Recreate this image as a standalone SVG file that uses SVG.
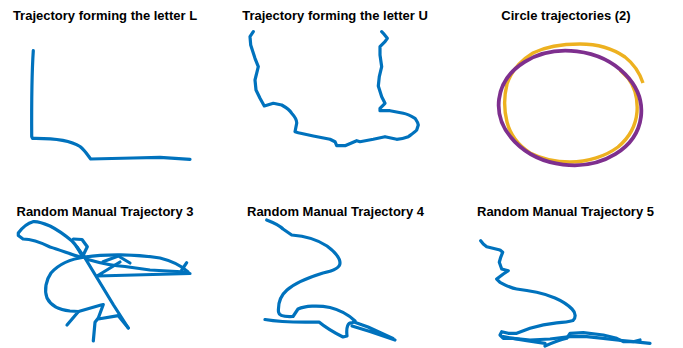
<svg xmlns="http://www.w3.org/2000/svg" width="683" height="348" viewBox="0 0 683 348">
<style>
.t{font-family:"Liberation Sans",Arial,sans-serif;font-weight:bold;font-size:13px;fill:#000;text-anchor:middle}
.b{fill:none;stroke:#0072BD;stroke-width:3.2;stroke-linecap:round;stroke-linejoin:round}
.o{fill:none;stroke:#EDB120;stroke-width:3.4;stroke-linecap:butt}
.p{fill:none;stroke:#7E2F8E;stroke-width:3.8}
</style>
<rect width="683" height="348" fill="#fff"/>
<g id="panel-L">
<text class="t" x="105" y="19.5">Trajectory forming the letter L</text>
<path class="b" d="M33.3,50.7 C32,70 31.5,100 31.7,136.5 L32.5,138.3 C55,138 70,140 80,146.5 C85,150.5 88,155.5 90.7,159 L133,158 L160,157.3 L190,159.3"/>
</g>
<g id="panel-U">
<text class="t" x="335" y="19.5">Trajectory forming the letter U</text>
<path class="b" d="M253.3,31.7 L250,36.7 L250.7,45 L255,58.3 L258.3,66.7 L255,80 L256,90 L260,98.3 L264.3,106 L273.3,103.3 L281.7,105 C287,108 290,110 291.7,113.3 C295,117 297,120 296.7,123.3 L295,131.7 L298.3,132.7 L313.3,136 L330,139.3 L335,141.7 L336.7,145.7 L345,145.7 L356.7,140.7 L360,141.7 L373.3,139.3 L385,136.7 L396.7,139.3 C402,139 405,138 408.3,136.7 C412,134 415,132 416.7,130 L418.3,125 C418,122 416,120 415,118.3 C411,116 407,114 403.3,113.3 L390,110.7 L380,110.7 L380,108.3 L385,103.3 L381.7,96.7 L378.3,86 L379.3,76.7 L381.7,66.7 L380,55 L380,46.7 L385,41.7 L387.3,38.3 L383.3,33.3 L381.7,31.7"/>
</g>
<g id="panel-circles">
<text class="t" x="566" y="19.5">Circle trajectories (2)</text>
<path class="o" d="M643,83 C640,74 634,64 625,57 C612,48 596,44 580,44 C562,44 545,47 533,53 C520,61 511,72 507,84 C504,96 504,110 507,122 C510,134 518,145 530,153 C542,159 556,162 570,162 C588,162 606,156 618,147 C630,137 636,124 637,112 C638,98 634,86 628,78 L620,70"/>
<ellipse class="p" cx="570" cy="108" rx="71.5" ry="57" transform="rotate(7 570 108)"/>
</g>
<g id="panel-r3">
<text class="t" x="105" y="215.7">Random Manual Trajectory 3</text>
<path class="b" d="M80,257 C70,254 60,250 50,247 C42,243 32,239 23,239 L18.3,235.5 L18.3,233 C22,228 28,223 33,221.7 C38,221 43,223 50,226 C58,230 66,236 72,241 C76,245 79,250 82,256"/>
<path class="b" d="M85,257 C70,259 58,265 51,273 C46,280 44,290 47,298 C51,306 60,310 70,311 L78.5,311.5 L67,325"/>
<path class="b" d="M78.5,311.5 L101,305 L103.3,304.5 L98.3,318 L95,322.3 L93.3,341 M98.3,319 L118.3,315.7 L128.3,328"/>
<path class="b" d="M77,247 L85,258 L113.5,305 L128.3,328"/>
<path class="b" d="M73.3,239 L82,239.5 L87.3,246.7 L83.3,255"/>
<path class="b" d="M85,257 C105,254 135,254 160,258 C172,261 182,266 188,272"/>
<path class="b" d="M186.7,262.7 L181.7,270"/>
<path class="b" d="M86,259 C100,263 112,266 125,266.5 L150,270 L186,272"/>
<path class="b" d="M120,262 L97,276 L190,273.5"/>
<path class="b" d="M103,261.7 L118.3,256 L130,263"/>
</g>
<g id="panel-r4">
<text class="t" x="335.5" y="215.7">Random Manual Trajectory 4</text>
<path class="b" d="M266.7,220 C272,222 278,224 283,229 L291.7,235 C305,236 318,240 327,246 C335,252 340,258 340,263 C340,268 333,271 323,273 C310,277 295,283 287,290 C280,296 278,305 278.5,312 C279,316 284,317 293,316.5 L298,309 C305,306 318,305 330,307.5 C340,310 350,316 355,321 L352,323 C348,322 346,327 347,336 L343,337 C335,333 325,327 319,322 C305,322 285,323 265,319.5"/>
<path class="b" d="M352,326 L370,331.5 L395,340 M354,322 L368,327 L393,338.5"/>
</g>
<g id="panel-r5">
<text class="t" x="565.5" y="215.7">Random Manual Trajectory 5</text>
<path class="b" d="M480.7,240.7 L483.3,244 L486.7,246.7 L500,250 L502.7,252.3 L500.7,257.3 L499.3,262.3 L501.7,269 L508.3,270.7 L503.3,274 L496.7,279 L500,282.3 C505,285 510,288 516.7,289 C524,290 530,291 536.7,292.3 C545,294 550,296 555,298 C562,301 568,305 572,309 C576,313 576,318 573,320.5 C568,322 562,322.5 556.7,322.8 C548,323.5 540,325 530,328.3 L516.7,333.3 L508.3,333.3 L501.7,331.7 L500,335 L503.3,338.3 L513.3,338.3 L530,340 L550,339 L570,336.7 L586.7,336.7 L603.3,338.3 L616.7,340 L633.3,341.7 L650,343.3"/>
<path class="b" d="M503.3,336.7 L526.7,340.7 L545,343.3 M545,346 C552,343 560,340 566.7,338.3 L570,333.3 L583.3,332.7 L603.3,335 L616.7,338.3 L623.3,341.7 L633.3,341.7 L640,340"/>
</g>
</svg>
